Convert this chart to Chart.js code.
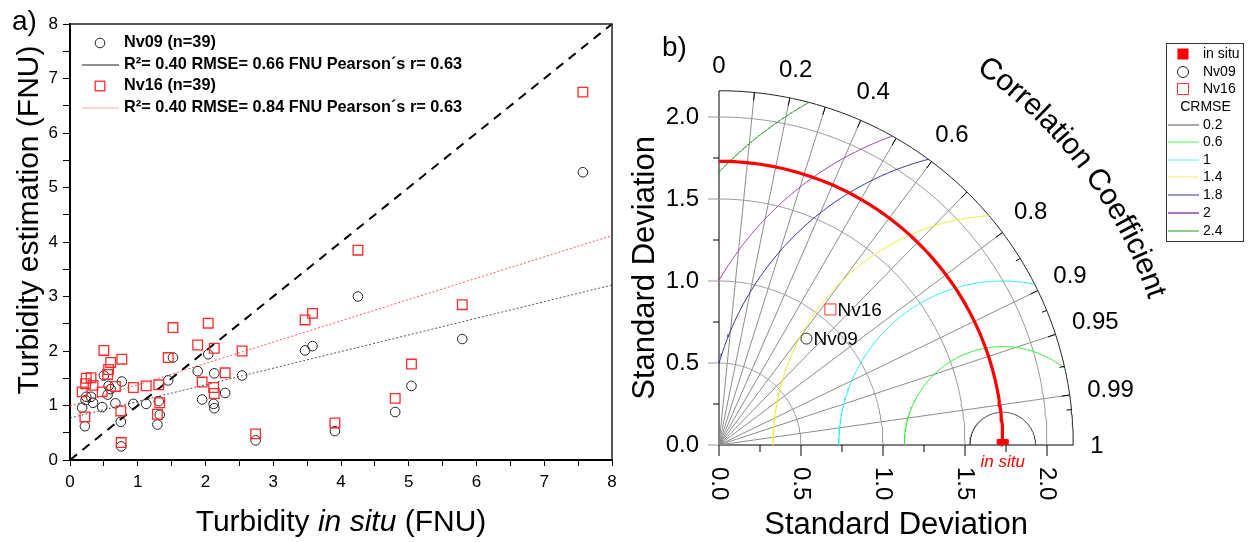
<!DOCTYPE html>
<html>
<head>
<meta charset="utf-8">
<script src="https://cdn.jsdelivr.net/npm/chart.js@4.4.1/dist/chart.umd.min.js"></script>
<style>
  html, body { margin: 0; padding: 0; background: #fff; }
  #wrap { position: relative; width: 1253px; height: 542px; overflow: hidden; }
  #chartA { position: absolute; left: 0; top: 0; }
  #chartB { position: absolute; left: 625px; top: 0; }
</style>
</head>
<body>
<div id="wrap">
  <canvas id="chartA" width="625" height="542"></canvas>
  <canvas id="chartB" width="628" height="542"></canvas>
</div>
<script>
// ---- panel a: turbidity in situ vs estimation ----
const inSitu = [4.25, 5.79, 3.47, 3.58, 5.04, 4.80, 3.91, 2.74, 2.54, 2.29,
                2.13, 2.04, 1.885, 1.95, 2.12, 2.13, 1.52, 1.45, 1.31, 1.325,
                1.29, 1.125, 0.935, 0.765, 0.75, 0.755, 0.67, 0.555, 0.57, 0.50,
                0.475, 0.34, 0.31, 0.24, 0.18, 0.22, 7.57, 0.60, 0.23];
const nv09 = [3.00, 2.22, 2.01, 2.09, 1.36, 0.88, 0.53, 0.36, 1.55, 1.23,
              1.59, 1.94, 1.63, 1.11, 1.03, 0.95, 1.88, 1.46, 1.08, 0.83,
              0.65, 1.03, 1.03, 1.44, 0.70, 0.25, 1.04, 1.20, 1.36, 1.55,
              0.97, 1.05, 1.16, 1.16, 0.96, 0.62, 5.28, 1.30, 1.10];
const nv16 = [3.85, 2.85, 2.57, 2.69, 1.76, 1.13, 0.68, 0.48, 2.00, 1.60,
              2.05, 2.51, 2.11, 1.43, 1.33, 1.22, 2.43, 1.88, 1.38, 1.05,
              0.84, 1.36, 1.33, 1.85, 0.90, 0.32, 1.35, 1.57, 1.66, 2.01,
              1.25, 1.37, 1.51, 1.50, 1.25, 0.79, 6.75, 1.79, 1.40];
// linear fits (Nv09, Nv16)
const fitIntercept = [0.77, 0.99];
const fitSlope = [0.305, 0.391];
const legendA = ['Nv09 (n=39)', 'R\u00b2= 0.40 RMSE= 0.66 FNU Pearson\u00b4s r= 0.63',
                 'Nv16 (n=39)', 'R\u00b2= 0.40 RMSE= 0.84 FNU Pearson\u00b4s r= 0.63'];
const axisA = [0, 8];

// ---- panel b: Taylor diagram ----
const refSD = 1.73;
const modelNames = ['Nv09', 'Nv16'];
const modelSD = [0.84, 1.07];
const modelCorr = [0.635, 0.635];
const crmseLevels = [0.2, 0.6, 1, 1.4, 1.8, 2, 2.4];
const crmseColors = ['#444444', '#33ee33', '#33eeee', '#eeee33', '#3333a0', '#a040a8', '#229922'];
const crmseLegendColors = ['#a8a8a8', '#44ff44', '#66f0f0', '#f0f066', '#3333a0', '#b070c0', '#229922'];
const sdTicks = [0, 0.5, 1, 1.5, 2];
const sdMinor = [0.25, 0.75, 1.25, 1.75];
const corrTicks = [0, 0.2, 0.4, 0.6, 0.8, 0.9, 0.95, 0.99, 1];
const corrGrid = [0.1, 0.2, 0.3, 0.4, 0.5, 0.6, 0.7, 0.8, 0.9, 0.95, 0.99];
const corrMinor = [0.85, 0.925, 0.975, 0.995];
const sdMax = 2.16;

const FONT = "'Liberation Sans', Arial, Helvetica, sans-serif";
Chart.defaults.font.family = FONT;
Chart.defaults.color = '#000';

function line(ctx, x1, y1, x2, y2) {
    ctx.beginPath();
    ctx.moveTo(x1, y1);
    ctx.lineTo(x2, y2);
    ctx.stroke();
}

// ---------- panel a ----------
const panelAPlugin = {
    id: 'panelA',
    afterDraw(chart) {
        const { ctx, chartArea: a } = chart;
        ctx.save();
        // top / right frame
        ctx.strokeStyle = '#222';
        ctx.lineWidth = 1.5;
        ctx.beginPath();
        ctx.moveTo(a.left, a.top);
        ctx.lineTo(a.right, a.top);
        ctx.lineTo(a.right, a.bottom);
        ctx.stroke();

        // x title with italic "in situ"
        const parts = [['Turbidity ', ''], ['in situ', 'italic '], [' (FNU)', '']];
        let total = 0;
        parts.forEach(p => { ctx.font = `${p[1]}30px ${FONT}`; p.push(ctx.measureText(p[0]).width); total += p[2]; });
        let xx = (a.left + a.right) / 2 - total / 2;
        ctx.fillStyle = '#000';
        ctx.textBaseline = 'alphabetic';
        ctx.textAlign = 'left';
        parts.forEach(p => { ctx.font = `${p[1]}30px ${FONT}`; ctx.fillText(p[0], xx, 531); xx += p[2]; });

        // y title
        ctx.save();
        ctx.font = `30px ${FONT}`;
        ctx.textAlign = 'center';
        ctx.translate(38, 220);
        ctx.rotate(-Math.PI / 2);
        ctx.fillText('Turbidity estimation (FNU)', 0, 0);
        ctx.restore();

        // legend
        const rows = [43, 65, 86, 108];
        ctx.font = `bold 16.3px ${FONT}`;
        ctx.textBaseline = 'middle';
        legendA.forEach((t, i) => ctx.fillText(t, 124, rows[i]));
        ctx.lineWidth = 1;
        ctx.strokeStyle = '#222';
        ctx.beginPath(); ctx.arc(100, rows[0], 4.8, 0, Math.PI * 2); ctx.stroke();
        line(ctx, 82, rows[1], 119, rows[1]);
        ctx.strokeStyle = '#ff2a2a';
        ctx.lineWidth = 1.3;
        ctx.strokeRect(95.2, rows[2] - 4.8, 9.6, 9.6);
        ctx.strokeStyle = '#ffa8a8';
        ctx.lineWidth = 1;
        line(ctx, 82, rows[3], 119, rows[3]);

        ctx.font = `28px ${FONT}`;
        ctx.textBaseline = 'alphabetic';
        ctx.fillText('a)', 12, 30);
        ctx.restore();
    }
};

const fitData = (i) => axisA.map(v => ({ x: v, y: fitIntercept[i] + fitSlope[i] * v }));

new Chart(document.getElementById('chartA'), {
    type: 'scatter',
    data: {
        datasets: [
            {
                label: 'Nv16',
                data: inSitu.map((v, i) => ({ x: v, y: nv16[i] })),
                pointStyle: 'rect', pointRadius: 6.8, borderWidth: 1.3,
                borderColor: '#ff2a2a', backgroundColor: 'rgba(0,0,0,0)', clip: false
            },
            {
                label: 'Nv09',
                data: inSitu.map((v, i) => ({ x: v, y: nv09[i] })),
                pointStyle: 'circle', pointRadius: 4.8, borderWidth: 1,
                borderColor: '#222', backgroundColor: 'rgba(0,0,0,0)', clip: false
            },
            {
                label: '1:1',
                data: axisA.map(v => ({ x: v, y: v })),
                showLine: true, pointRadius: 0, borderColor: '#000', borderWidth: 2,
                borderDash: [9, 7], clip: false
            },
            {
                label: 'fit Nv09',
                data: fitData(0),
                showLine: true, pointRadius: 0, borderColor: '#555', borderWidth: 1,
                borderDash: [2, 2], clip: false
            },
            {
                label: 'fit Nv16',
                data: fitData(1),
                showLine: true, pointRadius: 0, borderColor: '#ff5555', borderWidth: 1,
                borderDash: [2, 2], clip: false
            }
        ]
    },
    options: {
        responsive: false,
        animation: false,
        devicePixelRatio: 1,
        events: [],
        layout: { padding: { top: 24, right: 13, left: 0, bottom: 0 } },
        plugins: { legend: { display: false }, tooltip: { enabled: false } },
        scales: {
            x: {
                type: 'linear', min: axisA[0], max: axisA[1],
                afterFit: s => { s.height = 82; },
                ticks: {
                    stepSize: 0.5, autoSkip: false, maxRotation: 0, padding: 6,
                    font: { size: 17 },
                    callback: v => Number.isInteger(v) ? String(v) : ''
                },
                grid: { drawOnChartArea: false, tickLength: 6, color: '#000' },
                border: { color: '#000', width: 2 }
            },
            y: {
                type: 'linear', min: axisA[0], max: axisA[1],
                afterFit: s => { s.width = 70; },
                ticks: {
                    stepSize: 0.5, autoSkip: false, padding: 5,
                    font: { size: 17 },
                    callback: v => Number.isInteger(v) ? String(v) : ''
                },
                grid: { drawOnChartArea: false, tickLength: 7, color: '#000' },
                border: { color: '#000', width: 2 }
            }
        }
    },
    plugins: [panelAPlugin]
});

// ---------- panel b ----------
function sdArc(r) {
    const pts = [];
    for (let i = 0; i <= 90; i++) {
        const t = i * Math.PI / 180;
        pts.push({ x: r * Math.cos(t), y: r * Math.sin(t) });
    }
    return pts;
}

function crmseArc(r) {
    const c = refSD, R = sdMax;
    let t0 = 0, t1 = Math.PI;
    if (c + r > R) {
        const xo = (R * R - r * r + c * c) / (2 * c);
        const yo = Math.sqrt(R * R - xo * xo);
        t0 = Math.atan2(yo, xo - c);
    }
    if (r > c) t1 = Math.atan2(Math.sqrt(r * r - c * c), -c);
    const pts = [];
    for (let i = 0; i <= 120; i++) {
        const t = t0 + (t1 - t0) * i / 120;
        pts.push({ x: c + r * Math.cos(t), y: r * Math.sin(t) });
    }
    return pts;
}

const lineDs = (data, color, width) => ({
    data, showLine: true, pointRadius: 0, borderColor: color, borderWidth: width,
    tension: 0, clip: false
});

const taylorSets = [
    {
        label: 'in situ', data: [{ x: refSD, y: 0 }], pointStyle: 'rect', pointRadius: 7.8,
        backgroundColor: '#ff0000', borderColor: '#ff0000', borderWidth: 1, clip: 0
    },
    {
        label: 'Nv09', data: [{ x: modelSD[0] * modelCorr[0], y: modelSD[0] * Math.sqrt(1 - modelCorr[0] ** 2) }],
        pointStyle: 'circle', pointRadius: 5.5, borderColor: '#222', borderWidth: 1,
        backgroundColor: 'rgba(0,0,0,0)', clip: false
    },
    {
        label: 'Nv16', data: [{ x: modelSD[1] * modelCorr[1], y: modelSD[1] * Math.sqrt(1 - modelCorr[1] ** 2) }],
        pointStyle: 'rect', pointRadius: 7.8, borderColor: '#ff3333', borderWidth: 1,
        backgroundColor: 'rgba(0,0,0,0)', clip: false
    },
    lineDs(sdArc(refSD), '#ff0000', 3.2)
];
crmseLevels.forEach((r, i) => taylorSets.push(lineDs(crmseArc(r), crmseColors[i], 1)));
sdTicks.filter(v => v > 0).forEach(v => taylorSets.push(lineDs(sdArc(v), '#9a9a9a', 1)));
corrGrid.forEach(c => taylorSets.push(lineDs([{ x: 0, y: 0 }, { x: sdMax * c, y: sdMax * Math.sqrt(1 - c * c) }], '#8c8c8c', 1)));
taylorSets.push(lineDs(sdArc(sdMax), '#222', 1));
taylorSets.push(lineDs([{ x: 0, y: 0 }, { x: 0, y: sdMax }], '#000', 1));
taylorSets.push(lineDs([{ x: 0, y: 0 }, { x: sdMax, y: 0 }], '#000', 1));

const taylorPlugin = {
    id: 'taylorDecor',
    afterDraw(chart) {
        const { ctx, scales: { x, y } } = chart;
        const ox = x.getPixelForValue(0), oy = y.getPixelForValue(0);
        const unit = x.getPixelForValue(1) - ox;
        const rOut = sdMax * unit;
        ctx.save();
        ctx.lineWidth = 1;

        // std-dev axis ticks
        sdTicks.forEach(v => {
            const py = y.getPixelForValue(v), px = x.getPixelForValue(v);
            ctx.strokeStyle = '#9a9a9a';
            line(ctx, ox - 11, py, ox, py);
            ctx.strokeStyle = '#000';
            line(ctx, px, oy, px, oy + 11);
        });
        ctx.strokeStyle = '#000';
        sdMinor.forEach(v => {
            const py = y.getPixelForValue(v), px = x.getPixelForValue(v);
            line(ctx, ox - 6, py, ox, py);
            line(ctx, px, oy, px, oy + 7);
        });

        // correlation ticks on the outer arc
        corrGrid.concat(corrMinor).forEach(c => {
            const a = Math.acos(c);
            const len = corrMinor.includes(c) ? 5 : 8;
            line(ctx, ox + rOut * Math.cos(a), oy - rOut * Math.sin(a),
                 ox + (rOut - len) * Math.cos(a), oy - (rOut - len) * Math.sin(a));
        });

        ctx.fillStyle = '#000';
        ctx.font = `24px ${FONT}`;
        ctx.textAlign = 'right';
        ctx.textBaseline = 'middle';
        sdTicks.forEach(v => ctx.fillText(v.toFixed(1), ox - 20, y.getPixelForValue(v)));
        ctx.textAlign = 'left';
        sdTicks.forEach(v => {
            ctx.save();
            ctx.translate(x.getPixelForValue(v), oy + 22);
            ctx.rotate(Math.PI / 2);
            ctx.fillText(v.toFixed(1), 0, 0);
            ctx.restore();
        });

        // correlation labels
        ctx.textAlign = 'center';
        corrTicks.forEach(c => {
            const a = Math.acos(c);
            const t = String(c);
            const w = ctx.measureText(t).width, h = 17;
            const r = rOut + 17 + (w / 2) * Math.cos(a) + (h / 2) * Math.sin(a);
            ctx.fillText(t, ox + r * Math.cos(a), oy - r * Math.sin(a) + 1);
        });

        // axis titles
        ctx.font = `31px ${FONT}`;
        ctx.fillText('Standard Deviation', (ox + x.getPixelForValue(sdMax)) / 2, 525);
        ctx.save();
        ctx.translate(20, (oy + y.getPixelForValue(sdMax)) / 2);
        ctx.rotate(-Math.PI / 2);
        ctx.fillText('Standard Deviation', 0, 0);
        ctx.restore();

        // curved "Correlation Coefficient"
        const title = 'Correlation Coefficient';
        const R = 462;
        ctx.font = `30px ${FONT}`;
        ctx.textAlign = 'center';
        let s = 0;
        const start = 55.5 * Math.PI / 180;
        for (const ch of title) {
            const w = ctx.measureText(ch).width;
            const a = start - (s + w / 2) / R;
            ctx.save();
            ctx.translate(ox + R * Math.cos(a), oy - R * Math.sin(a));
            ctx.rotate(Math.PI / 2 - a);
            ctx.fillText(ch, 0, 0);
            ctx.restore();
            s += w;
        }

        // point labels
        ctx.textAlign = 'left';
        ctx.font = `19px ${FONT}`;
        modelNames.forEach((n, i) => {
            const px = x.getPixelForValue(modelSD[i] * modelCorr[i]);
            const py = y.getPixelForValue(modelSD[i] * Math.sqrt(1 - modelCorr[i] ** 2));
            ctx.fillText(n, px + 7, py + 1);
        });
        ctx.fillStyle = '#ff0000';
        ctx.font = `italic 17px ${FONT}`;
        ctx.textAlign = 'center';
        ctx.fillText('in situ', x.getPixelForValue(refSD), oy + 17);

        // panel label
        ctx.fillStyle = '#000';
        ctx.font = `28px ${FONT}`;
        ctx.textAlign = 'left';
        ctx.textBaseline = 'alphabetic';
        ctx.fillText('b)', 37, 56);

        // legend box
        const bx = 541, by = 43, bw = 77, bh = 198;
        ctx.strokeStyle = '#333';
        ctx.strokeRect(bx + 0.5, by + 0.5, bw, bh);
        ctx.textBaseline = 'middle';
        ctx.font = `14px ${FONT}`;
        const mx = 558, tx = 578;
        ctx.fillStyle = '#ff0000';
        ctx.fillRect(mx - 5.5, 54 - 5.5, 11, 11);
        ctx.strokeStyle = '#222';
        ctx.beginPath(); ctx.arc(mx, 72, 5.5, 0, Math.PI * 2); ctx.stroke();
        ctx.strokeStyle = '#ff3333';
        ctx.strokeRect(mx - 5.5, 89 - 5.5, 11, 11);
        ctx.fillStyle = '#000';
        ctx.fillText('in situ', tx, 54);
        ctx.fillText(modelNames[0], tx, 72);
        ctx.fillText(modelNames[1], tx, 89);
        ctx.textAlign = 'center';
        ctx.fillText('CRMSE', bx + bw / 2 + 1, 107);
        ctx.textAlign = 'left';
        const ly = [125, 142, 160, 177, 195, 213, 231];
        crmseLevels.forEach((r, i) => {
            ctx.strokeStyle = crmseLegendColors[i];
            ctx.lineWidth = (i === 0 || i === 5) ? 2 : 1;
            line(ctx, 543, ly[i], 574, ly[i]);
            ctx.fillText(String(r), tx, ly[i]);
        });
        ctx.restore();
    }
};

new Chart(document.getElementById('chartB'), {
    type: 'scatter',
    data: { datasets: taylorSets },
    options: {
        responsive: false,
        animation: false,
        devicePixelRatio: 1,
        events: [],
        layout: { padding: { left: 94, top: 90.76, right: 179.76, bottom: 97 } },
        plugins: { legend: { display: false }, tooltip: { enabled: false } },
        scales: {
            x: { type: 'linear', min: 0, max: sdMax, display: false },
            y: { type: 'linear', min: 0, max: sdMax, display: false }
        }
    },
    plugins: [taylorPlugin]
});
</script>
</body>
</html>
